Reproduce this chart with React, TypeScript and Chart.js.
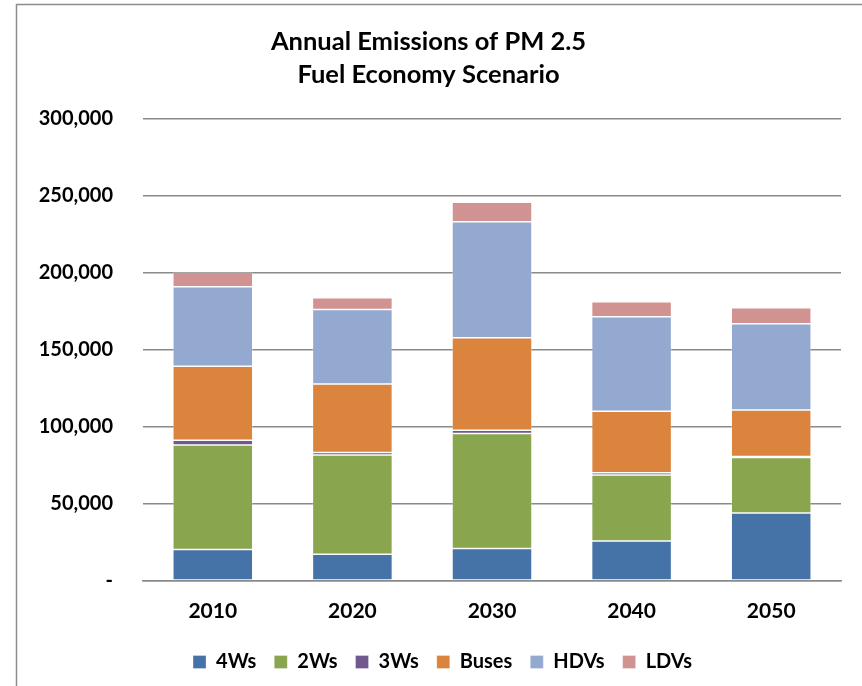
import React, { useEffect, useRef } from "react";
import { Chart, registerables } from "chart.js";

Chart.register(...registerables);

// Annual PM 2.5 emissions by vehicle class (tonnes), fuel economy scenario
const years = ["2010", "2020", "2030", "2040", "2050"];
const fourWheelers = [20300, 17300, 21000, 25800, 44000];
const twoWheelers = [67800, 64300, 74500, 42800, 35900];
const threeWheelers = [3000, 1700, 2100, 1500, 800];
const buses = [48100, 44400, 60000, 39900, 30100];
const heavyDuty = [51500, 48300, 75300, 61200, 55900];
const lightDuty = [9500, 7600, 12700, 9800, 10400];

const seriesNames = ["4Ws", "2Ws", "3Ws", "Buses", "HDVs", "LDVs"];
const seriesColors = ["#4572A7", "#89A54E", "#71588F", "#DB843D", "#93A9CF", "#D19392"];
const titleLines = ["Annual Emissions of PM 2.5", "Fuel Economy Scenario"];

const FONT = "Lato, 'Open Sans', sans-serif";

// Thin frame along the left and top edges of the chart
const framePlugin = {
  id: "frame",
  beforeDraw(chart: Chart) {
    const { ctx, width, height } = chart;
    ctx.save();
    ctx.strokeStyle = "#8c8c8c";
    ctx.lineWidth = 1.5;
    ctx.beginPath();
    ctx.moveTo(16.5, height);
    ctx.lineTo(16.5, 4.5);
    ctx.lineTo(width, 4.5);
    ctx.stroke();
    ctx.restore();
  },
};

// Nudge the legend row a little to the right
const legendOffsetPlugin = {
  id: "legendOffset",
  afterLayout(chart: any) {
    const legend = chart.legend;
    if (legend) {
      legend.left += 14;
      legend.right += 14;
    }
  },
};

export default function App() {
  const canvasRef = useRef<HTMLCanvasElement | null>(null);

  useEffect(() => {
    document.body.style.margin = "0";
    const canvas = canvasRef.current;
    if (!canvas) return;
    const values = [fourWheelers, twoWheelers, threeWheelers, buses, heavyDuty, lightDuty];
    const chart = new Chart(canvas, {
      type: "bar",
      data: {
        labels: years,
        datasets: seriesNames.map((name, i) => ({
          label: name,
          data: values[i],
          backgroundColor: seriesColors[i],
          borderColor: "rgba(255,255,255,0.4)",
          borderWidth: 0.75,
          borderSkipped: false,
          barPercentage: 0.573,
          categoryPercentage: 1,
        })),
      },
      options: {
        responsive: false,
        animation: false,
        layout: { padding: { left: 16, right: 21, top: 0, bottom: 4 } },
        plugins: {
          title: {
            display: true,
            text: titleLines,
            color: "#000",
            font: { family: FONT, size: 25.5, weight: "bold", lineHeight: 1.3 },
            padding: { top: 25, bottom: 27 },
          },
          legend: {
            position: "bottom",
            labels: {
              color: "#000",
              boxWidth: 13,
              boxHeight: 13,
              padding: 18,
              font: { family: FONT, size: 20, weight: "bold" },
            },
          },
          tooltip: { enabled: false },
        },
        scales: {
          x: {
            stacked: true,
            grid: { display: false },
            border: { display: true, color: "#8a8a8a", width: 1.5 },
            ticks: {
              color: "#000",
              padding: 10,
              font: { family: FONT, size: 21, weight: "bold" },
            },
          },
          y: {
            stacked: true,
            min: 0,
            max: 300000,
            afterFit(scale: any) {
              scale.width = 127;
            },
            grid: { color: "#8a8a8a", lineWidth: 1.5, drawTicks: false },
            border: { display: false },
            ticks: {
              stepSize: 50000,
              padding: 30,
              color: "#000",
              font: { family: FONT, size: 20, weight: "bold" },
              callback: (v: any) => (Number(v) === 0 ? "-" : Number(v).toLocaleString("en-US")),
            },
          },
        },
      },
      plugins: [framePlugin, legendOffsetPlugin],
    });
    return () => chart.destroy();
  }, []);

  return (
    <div style={{ width: 862, height: 686, background: "#fff" }}>
      <canvas ref={canvasRef} width={862} height={686} />
    </div>
  );
}
